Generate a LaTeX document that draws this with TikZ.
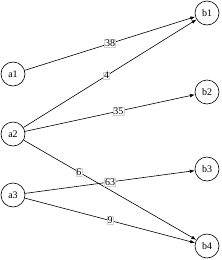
\documentclass[tikz,border=0pt]{standalone}
\usepackage{fontspec}
\setmainfont{Liberation Serif}
\usetikzlibrary{arrows.meta}
\begin{document}
\begin{tikzpicture}[x=1pt,y=-1pt,
  vtx/.style={draw,circle,minimum size=24pt,inner sep=0pt,line width=0.6pt,font=\fontsize{10}{11}\selectfont},
  edge/.style={-{Latex[length=5pt,width=3.5pt]},line width=0.6pt},
  wt/.style={fill=white,draw=gray!35,line width=0.4pt,inner sep=0.6pt,font=\fontsize{10}{11}\selectfont}]
\useasboundingbox (0,0) rectangle (222,260);
\node[vtx] (a1) at (13,74) {a1};
\node[vtx] (a2) at (13,134) {a2};
\node[vtx] (a3) at (13,195) {a3};
\node[vtx] (b1) at (207,13) {b1};
\node[vtx] (b2) at (207,92) {b2};
\node[vtx] (b3) at (207,169) {b3};
\node[vtx] (b4) at (207,246) {b4};
\draw[edge] (a1) -- node[wt,pos=0.5] {38} (b1);
\draw[edge] (a2) -- node[wt,pos=0.48] {4} (b1);
\draw[edge] (a2) -- node[wt,pos=0.55] {35} (b2);
\draw[edge] (a2) -- node[wt,pos=0.32] {6} (b4);
\draw[edge] (a3) -- node[wt,pos=0.5] {63} (b3);
\draw[edge] (a3) -- node[wt,pos=0.5] {9} (b4);
\end{tikzpicture}
\end{document}
